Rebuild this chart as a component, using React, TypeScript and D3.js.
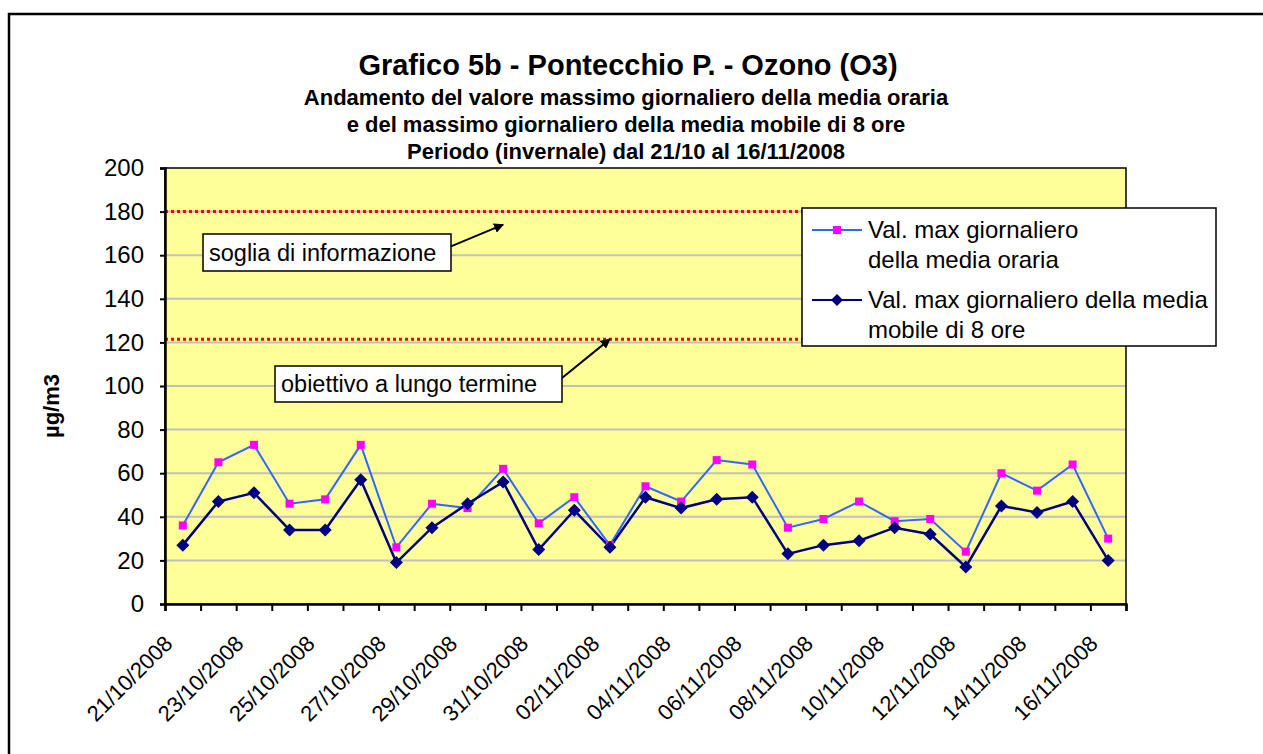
import {default as React, useEffect, useRef} from "react";
import * as d3 from "d3";

// dates of the period (27 days)
const dates: string[] = [
    "21/10/2008", "22/10/2008", "23/10/2008", "24/10/2008", "25/10/2008", "26/10/2008", "27/10/2008",
    "28/10/2008", "29/10/2008", "30/10/2008", "31/10/2008", "01/11/2008", "02/11/2008", "03/11/2008",
    "04/11/2008", "05/11/2008", "06/11/2008", "07/11/2008", "08/11/2008", "09/11/2008", "10/11/2008",
    "11/11/2008", "12/11/2008", "13/11/2008", "14/11/2008", "15/11/2008", "16/11/2008"
];

// Val. max giornaliero della media oraria
const maxMediaOraria: number[] = [
    36, 65, 73, 46, 48, 73, 26, 46, 44, 62, 37, 49, 27, 54,
    47, 66, 64, 35, 39, 47, 38, 39, 24, 60, 52, 64, 30
];

// Val. max giornaliero della media mobile di 8 ore
const maxMediaMobile8h: number[] = [
    27, 47, 51, 34, 34, 57, 19, 35, 46, 56, 25, 43, 26, 49,
    44, 48, 49, 23, 27, 29, 35, 32, 17, 45, 42, 47, 20
];

const yTicks: number[] = [0, 20, 40, 60, 80, 100, 120, 140, 160, 180, 200];

// soglia di informazione, obiettivo a lungo termine
const thresholds: number[] = [180, 121.5];

const titleLines: string[] = [
    "Andamento del valore massimo giornaliero della media oraria",
    "e del massimo giornaliero della media mobile di 8 ore",
    "Periodo (invernale) dal 21/10 al 16/11/2008"
];

const FONT = "Arial, 'Liberation Sans', sans-serif";

function App(): JSX.Element {
    const svgRef = useRef<SVGSVGElement>(null);

    useEffect(() => {
        if (!svgRef.current) return;
        const svg = d3.select(svgRef.current);
        svg.selectAll("*").remove();

        const left = 165, right = 1126, top = 168, bottom = 604;

        const x = d3.scaleBand<string>().domain(dates).range([left, right]);
        const xIdx = d3.scaleLinear().domain([0, dates.length]).range([left, right]);
        const y = d3.scaleLinear().domain([0, 200]).range([bottom, top]);
        const cx = (d: string) => (x(d) || 0) + x.bandwidth() / 2;

        // outer chart border
        svg.append("rect")
            .attr("x", 9).attr("y", 14)
            .attr("width", 1400).attr("height", 900)
            .attr("fill", "white").attr("stroke", "black").attr("stroke-width", 2.5);

        const defs = svg.append("defs");
        defs.append("marker")
            .attr("id", "arrow")
            .attr("viewBox", "0 0 10 10")
            .attr("refX", 9).attr("refY", 5)
            .attr("markerWidth", 5).attr("markerHeight", 5)
            .attr("orient", "auto")
            .append("path")
            .attr("d", "M0,0 L10,5 L0,10 z")
            .attr("fill", "black");

        // title
        svg.append("text")
            .attr("x", 628).attr("y", 75)
            .attr("text-anchor", "middle")
            .attr("font-family", FONT).attr("font-weight", "bold").attr("font-size", 29)
            .text("Grafico 5b - Pontecchio P. - Ozono (O3)");
        svg.selectAll("text.sub")
            .data(titleLines)
            .enter()
            .append("text")
            .attr("class", "sub")
            .attr("x", 626).attr("y", (_, i) => 105 + i * 27)
            .attr("text-anchor", "middle")
            .attr("font-family", FONT).attr("font-weight", "bold").attr("font-size", 22)
            .text(d => d);

        // plot area
        svg.append("rect")
            .attr("x", left).attr("y", top)
            .attr("width", right - left).attr("height", bottom - top)
            .attr("fill", "#FFFF99");

        // gridlines
        svg.append("g")
            .selectAll("line")
            .data(yTicks.filter(t => t > 0 && t < 200))
            .enter()
            .append("line")
            .attr("x1", left).attr("x2", right)
            .attr("y1", d => y(d)).attr("y2", d => y(d))
            .attr("stroke", "#C0C0C0").attr("stroke-width", 2);

        // threshold lines
        svg.append("g")
            .selectAll("line")
            .data(thresholds)
            .enter()
            .append("line")
            .attr("x1", left).attr("x2", right)
            .attr("y1", d => y(d)).attr("y2", d => y(d))
            .attr("stroke", "#FF0000").attr("stroke-width", 3)
            .attr("stroke-dasharray", "3,3");

        svg.append("rect")
            .attr("x", left).attr("y", top)
            .attr("width", right - left).attr("height", bottom - top)
            .attr("fill", "none").attr("stroke", "black").attr("stroke-width", 1.5);

        // y axis
        const yAxis = svg.append("g")
            .attr("transform", `translate(${left}, 0)`)
            .call(d3.axisLeft(y).tickValues(yTicks).tickSize(5).tickPadding(16));
        yAxis.select(".domain").attr("stroke", "black").attr("stroke-width", 2.5);
        yAxis.selectAll(".tick line").attr("stroke", "black").attr("stroke-width", 2);
        yAxis.selectAll(".tick text")
            .attr("font-family", FONT).attr("font-size", 24).attr("fill", "black");

        // x axis: ticks between categories
        const xAxis = svg.append("g")
            .attr("transform", `translate(0, ${bottom})`)
            .call(d3.axisBottom(xIdx).ticks(dates.length).tickSize(7).tickFormat(() => ""));
        xAxis.select(".domain").attr("stroke", "black").attr("stroke-width", 2.5);
        xAxis.selectAll(".tick line").attr("stroke", "black").attr("stroke-width", 2);

        svg.append("g")
            .selectAll("text")
            .data(dates.filter((_, i) => i % 2 === 0))
            .enter()
            .append("text")
            .attr("transform", d => `translate(${cx(d) - 9}, ${bottom + 41}) rotate(-45)`)
            .attr("text-anchor", "end")
            .attr("font-family", FONT).attr("font-size", 22)
            .text(d => d);

        // y axis title
        svg.append("text")
            .attr("transform", `translate(59, 406) rotate(-90)`)
            .attr("text-anchor", "middle")
            .attr("font-family", FONT).attr("font-weight", "bold").attr("font-size", 22)
            .text("µg/m3");

        // series
        const line = d3.line<number>()
            .x((_, i) => cx(dates[i]))
            .y(d => y(d));

        svg.append("path")
            .datum(maxMediaOraria)
            .attr("d", line)
            .attr("fill", "none").attr("stroke", "#3366FF").attr("stroke-width", 2);
        svg.append("path")
            .datum(maxMediaMobile8h)
            .attr("d", line)
            .attr("fill", "none").attr("stroke", "#000080").attr("stroke-width", 2.5);

        svg.append("g")
            .selectAll("rect")
            .data(maxMediaOraria)
            .enter()
            .append("rect")
            .attr("x", (_, i) => cx(dates[i]) - 4)
            .attr("y", d => y(d) - 4)
            .attr("width", 8).attr("height", 8)
            .attr("fill", "#FF00FF");

        const diamond = (px: number, py: number, r: number) =>
            `M${px},${py - r}L${px + r},${py}L${px},${py + r}L${px - r},${py}Z`;

        svg.append("g")
            .selectAll("path")
            .data(maxMediaMobile8h)
            .enter()
            .append("path")
            .attr("d", (d, i) => diamond(cx(dates[i]), y(d), 6.5))
            .attr("fill", "#000080");

        // annotations
        const notes = [
            {label: "soglia di informazione", bx: 203, by: 234, bw: 248, bh: 37, target: 9, value: 174},
            {label: "obiettivo a lungo termine", bx: 275, by: 366, bw: 287, bh: 36, target: 12, value: 121.5}
        ];
        notes.forEach(n => {
            svg.append("line")
                .attr("x1", n.bx + n.bw).attr("y1", n.by + n.bh / 3)
                .attr("x2", cx(dates[n.target])).attr("y2", y(n.value))
                .attr("stroke", "black").attr("stroke-width", 2)
                .attr("marker-end", "url(#arrow)");
            svg.append("rect")
                .attr("x", n.bx).attr("y", n.by)
                .attr("width", n.bw).attr("height", n.bh)
                .attr("fill", "white").attr("stroke", "black").attr("stroke-width", 1.5);
            svg.append("text")
                .attr("x", n.bx + 6).attr("y", n.by + n.bh / 2 + 8)
                .attr("font-family", FONT).attr("font-size", 23.5)
                .text(n.label);
        });

        // legend
        const lg = svg.append("g");
        lg.append("rect")
            .attr("x", 802).attr("y", 208)
            .attr("width", 414).attr("height", 138)
            .attr("fill", "white").attr("stroke", "black").attr("stroke-width", 1.5);
        const legendItems = [
            {lines: ["Val. max giornaliero", "della media oraria"], color: "#3366FF", marker: "square", ly: 230},
            {lines: ["Val. max giornaliero della media", "mobile di 8 ore"], color: "#000080", marker: "diamond", ly: 300}
        ];
        legendItems.forEach(item => {
            lg.append("line")
                .attr("x1", 812).attr("x2", 862)
                .attr("y1", item.ly).attr("y2", item.ly)
                .attr("stroke", item.color).attr("stroke-width", 2);
            if (item.marker === "square") {
                lg.append("rect")
                    .attr("x", 833).attr("y", item.ly - 4)
                    .attr("width", 8).attr("height", 8)
                    .attr("fill", "#FF00FF");
            } else {
                lg.append("path")
                    .attr("d", diamond(837, item.ly, 6))
                    .attr("fill", "#000080");
            }
            item.lines.forEach((t, i) => {
                lg.append("text")
                    .attr("x", 868).attr("y", item.ly + 8 + i * 30)
                    .attr("font-family", FONT).attr("font-size", 24)
                    .text(t);
            });
        });
    }, []);

    return (
        <svg
            ref={svgRef}
            width={1263}
            height={754}
            style={{position: "absolute", left: 0, top: 0}}
        />
    );
}

export default App;
